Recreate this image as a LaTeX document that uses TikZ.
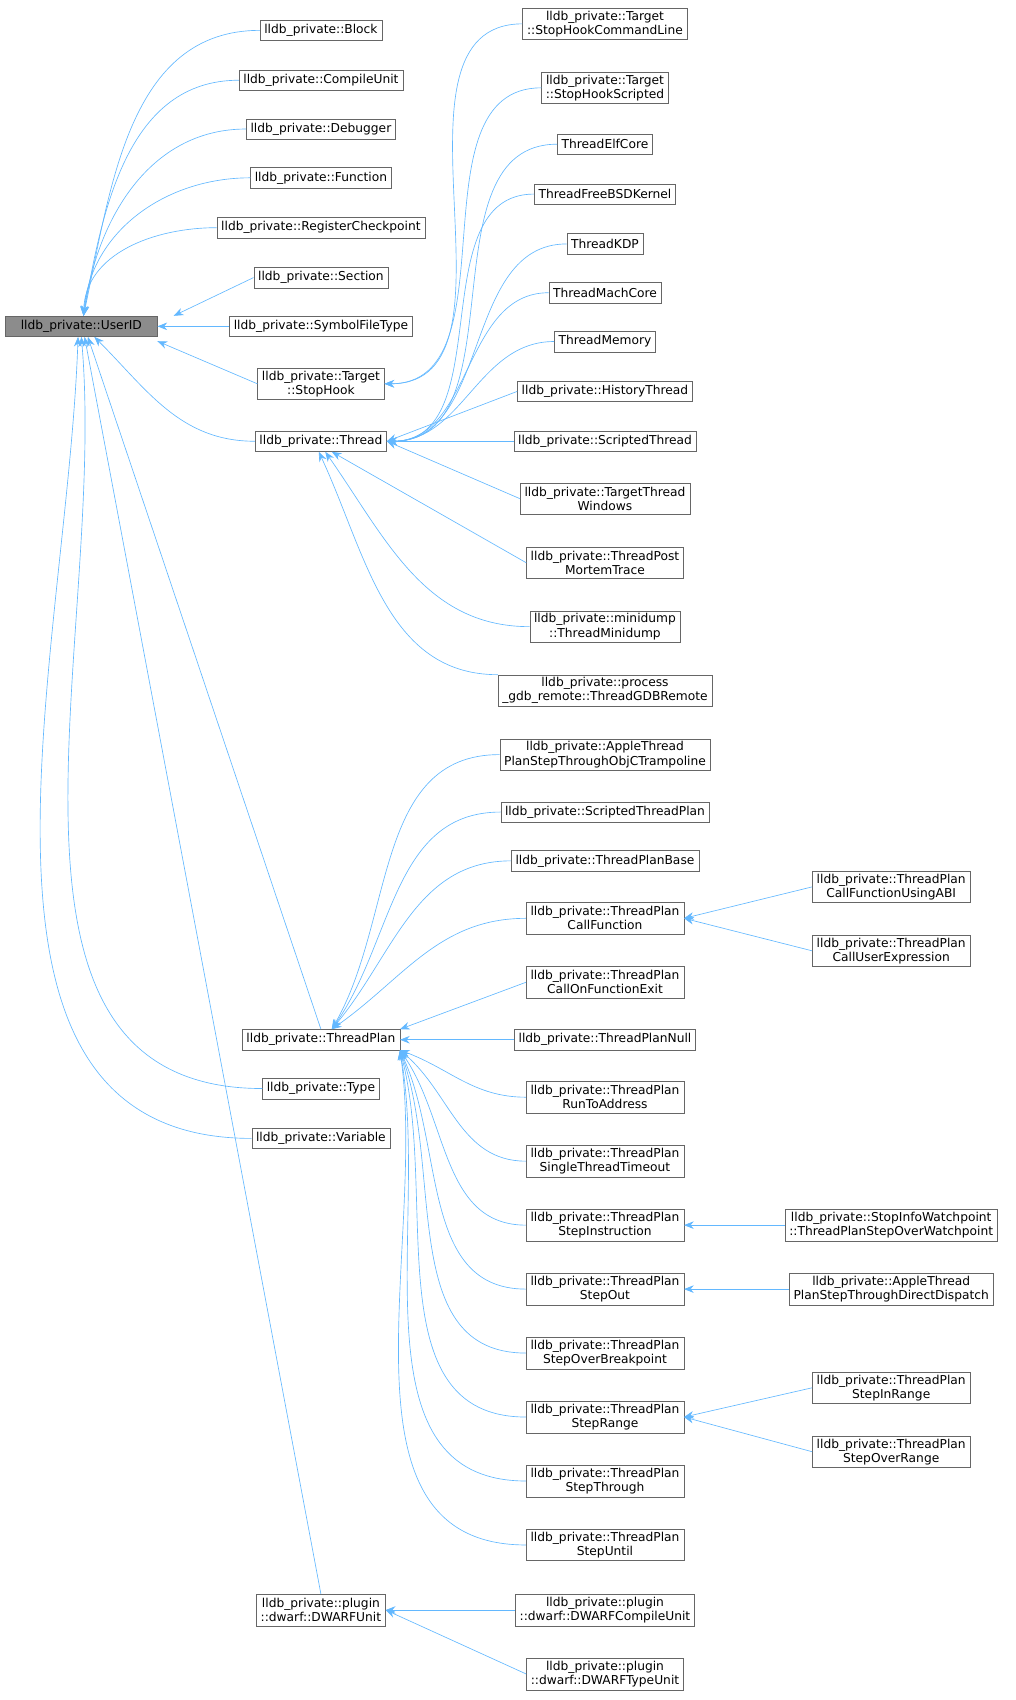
\documentclass[tikz,border=0pt]{standalone}
\usepackage{fontspec}
\setmainfont{DejaVu Sans}
\usetikzlibrary{arrows.meta}
\definecolor{edgeblue}{HTML}{63B8FF}
\tikzset{
  cls/.style={draw=black!60,fill=white,align=center,inner xsep=4pt,inner ysep=1pt,
    minimum height=19pt,font=\fontsize{11.3}{13}\selectfont},
  cls2/.style={cls,minimum height=29pt},
  inh/.style={draw=edgeblue,line width=0.6pt,{Stealth[length=9pt,width=7pt,fill=edgeblue]}-}
}
\begin{document}
\begin{tikzpicture}[x=1pt,y=-1pt]
  \useasboundingbox (0,0) rectangle (937,1568);
  % root
  \node[cls,fill=black!45,minimum width=140pt] (uid) at (75,301) {lldb\_private::UserID};
  % first level
  \node[cls]  (block)  at (296,28)   {lldb\_private::Block};
  \node[cls]  (cu)     at (296,74)   {lldb\_private::CompileUnit};
  \node[cls]  (dbg)    at (296,119)  {lldb\_private::Debugger};
  \node[cls]  (func)   at (296,164)  {lldb\_private::Function};
  \node[cls]  (regcp)  at (296,210)  {lldb\_private::RegisterCheckpoint};
  \node[cls]  (sect)   at (296,256)  {lldb\_private::Section};
  \node[cls]  (sft)    at (296,301)  {lldb\_private::SymbolFileType};
  \node[cls2] (hook)   at (296,354)  {lldb\_private::Target\\::StopHook};
  \node[cls]  (thr)    at (296,407)  {lldb\_private::Thread};
  \node[cls]  (tp)     at (296,959)  {lldb\_private::ThreadPlan};
  \node[cls]  (type)   at (296,1004) {lldb\_private::Type};
  \node[cls]  (var)    at (296,1050) {lldb\_private::Variable};
  \node[cls2] (dwu)    at (296,1485) {lldb\_private::plugin\\::dwarf::DWARFUnit};
  % stop hooks
  \node[cls2] (hcl)    at (558,22)   {lldb\_private::Target\\::StopHookCommandLine};
  \node[cls2] (hscr)   at (558,81)   {lldb\_private::Target\\::StopHookScripted};
  % threads
  \node[cls]  (elf)    at (558,133)  {ThreadElfCore};
  \node[cls]  (fbsd)   at (558,179)  {ThreadFreeBSDKernel};
  \node[cls]  (kdp)    at (558,225)  {ThreadKDP};
  \node[cls]  (mach)   at (558,270)  {ThreadMachCore};
  \node[cls]  (mem)    at (558,315)  {ThreadMemory};
  \node[cls]  (hist)   at (558,361)  {lldb\_private::HistoryThread};
  \node[cls]  (sthr)   at (558,407)  {lldb\_private::ScriptedThread};
  \node[cls2] (win)    at (558,460)  {lldb\_private::TargetThread\\Windows};
  \node[cls2] (pmt)    at (558,519)  {lldb\_private::ThreadPost\\MortemTrace};
  \node[cls2] (mdmp)   at (558,578)  {lldb\_private::minidump\\::ThreadMinidump};
  \node[cls2] (gdb)    at (558,637)  {lldb\_private::process\\\_gdb\_remote::ThreadGDBRemote};
  % thread plans
  \node[cls2] (objc)   at (558,696)  {lldb\_private::AppleThread\\PlanStepThroughObjCTrampoline};
  \node[cls]  (stp)    at (558,749)  {lldb\_private::ScriptedThreadPlan};
  \node[cls]  (base)   at (558,794)  {lldb\_private::ThreadPlanBase};
  \node[cls2] (cf)     at (558,847)  {lldb\_private::ThreadPlan\\CallFunction};
  \node[cls2] (cofe)   at (558,906)  {lldb\_private::ThreadPlan\\CallOnFunctionExit};
  \node[cls]  (null)   at (558,959)  {lldb\_private::ThreadPlanNull};
  \node[cls2] (rta)    at (558,1012) {lldb\_private::ThreadPlan\\RunToAddress};
  \node[cls2] (stt)    at (558,1071) {lldb\_private::ThreadPlan\\SingleThreadTimeout};
  \node[cls2] (sins)   at (558,1130) {lldb\_private::ThreadPlan\\StepInstruction};
  \node[cls2] (sout)   at (558,1189) {lldb\_private::ThreadPlan\\StepOut};
  \node[cls2] (sob)    at (558,1248) {lldb\_private::ThreadPlan\\StepOverBreakpoint};
  \node[cls2] (srng)   at (558,1307) {lldb\_private::ThreadPlan\\StepRange};
  \node[cls2] (sthru)  at (558,1366) {lldb\_private::ThreadPlan\\StepThrough};
  \node[cls2] (suntil) at (558,1425) {lldb\_private::ThreadPlan\\StepUntil};
  % dwarf units
  \node[cls2] (dcu)    at (558,1485) {lldb\_private::plugin\\::dwarf::DWARFCompileUnit};
  \node[cls2] (dtu)    at (558,1544) {lldb\_private::plugin\\::dwarf::DWARFTypeUnit};
  % third level
  \node[cls2] (abi)    at (822,818)  {lldb\_private::ThreadPlan\\CallFunctionUsingABI};
  \node[cls2] (cue)    at (822,877)  {lldb\_private::ThreadPlan\\CallUserExpression};
  \node[cls2] (siw)    at (822,1130) {lldb\_private::StopInfoWatchpoint\\::ThreadPlanStepOverWatchpoint};
  \node[cls2] (ddisp)  at (822,1189) {lldb\_private::AppleThread\\PlanStepThroughDirectDispatch};
  \node[cls2] (sir)    at (822,1280) {lldb\_private::ThreadPlan\\StepInRange};
  \node[cls2] (sor)    at (822,1339) {lldb\_private::ThreadPlan\\StepOverRange};

  % inheritance into UserID
  \foreach \c/\a in {block/78,cu/80,dbg/82,func/85,regcp/88}
    \draw[inh] ([xshift=2pt]uid.north) to[out=\a,in=180] (\c.west);
  \draw[inh] ([xshift=15pt]uid.north east) -- (sect.west);
  \draw[inh] (uid.east) -- (sft.west);
  \draw[inh] ([yshift=-4pt]uid.south east) -- (hook.west);
  \draw[inh] ([xshift=12pt]uid.south) to[out=-45,in=180] (thr.west);
  \draw[inh] ([xshift=6pt]uid.south) -- (tp.north);
  \draw[inh] (uid.south) to[out=-85,in=180] (type.west);
  \draw[inh] ([xshift=-3pt]uid.south) to[out=-92,in=180] (var.west);
  \draw[inh] ([xshift=3pt]uid.south) -- (dwu.north);

  % into StopHook and Thread
  \foreach \c in {hcl,hscr}
    \draw[inh] (hook.east) to[out=0,in=180] (\c.west);
  \foreach \c in {elf,fbsd,kdp,mach,mem}
    \draw[inh] (thr.east) to[out=0,in=180] (\c.west);
  \foreach \c in {hist,sthr,win}
    \draw[inh] (thr.east) -- (\c.west);
  \draw[inh] ([xshift=10pt]thr.south) -- (pmt.west);
  \draw[inh] ([xshift=4pt]thr.south) to[out=-55,in=180] (mdmp.west);
  \draw[inh] ([xshift=-2pt]thr.south) to[out=-65,in=180] (gdb.north west);

  % into ThreadPlan
  \foreach \c/\a in {objc/60,stp/55,base/50,cf/35}
    \draw[inh] ([xshift=10pt]tp.north) to[out=\a,in=180] (\c.west);
  \draw[inh] (tp.north east) -- (cofe.west);
  \draw[inh] (tp.east) -- (null.west);
  \foreach \c/\a in {rta/-20,stt/-40,sins/-55,sout/-65,sob/-70,srng/-75,sthru/-80,suntil/-82}
    \draw[inh] (tp.south east) to[out=\a,in=180] (\c.west);

  % third level
  \draw[inh] (cf.east) -- (abi.west);
  \draw[inh] (cf.east) -- (cue.west);
  \draw[inh] (sins.east) -- (siw.west);
  \draw[inh] (sout.east) -- (ddisp.west);
  \draw[inh] (srng.east) -- (sir.west);
  \draw[inh] (srng.east) -- (sor.west);
  \draw[inh] (dwu.east) -- (dcu.west);
  \draw[inh] (dwu.east) -- (dtu.west);
\end{tikzpicture}
\end{document}
